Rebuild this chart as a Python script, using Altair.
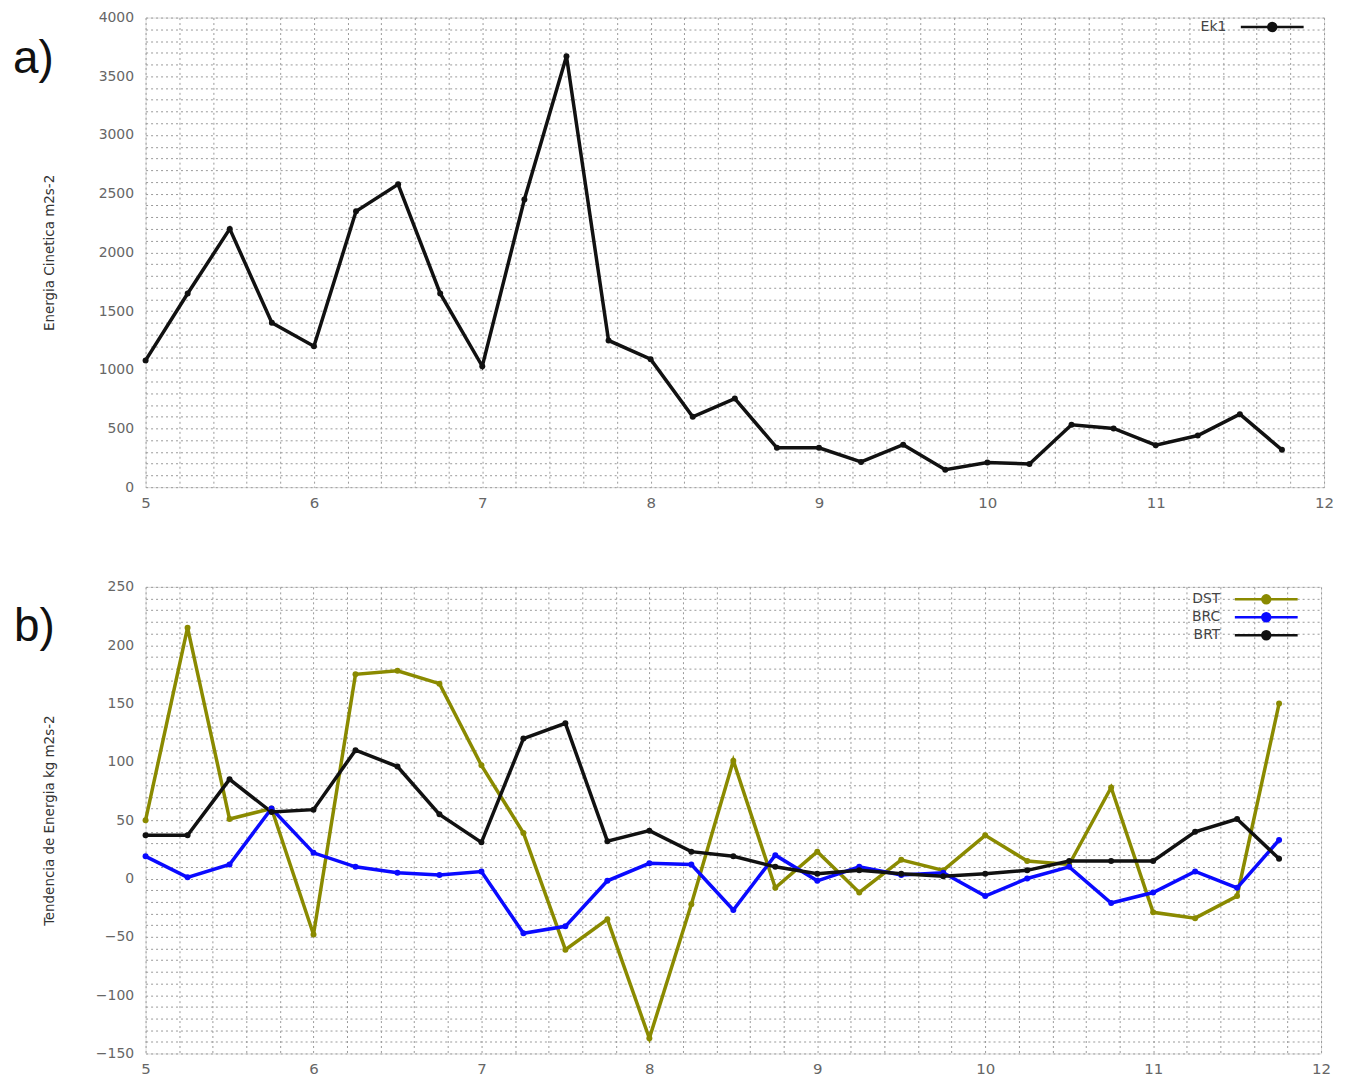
import altair as alt
import pandas as pd

# ---- data ----
x_vals = [5.0, 5.25, 5.5, 5.75, 6.0, 6.25, 6.5, 6.75, 7.0, 7.25, 7.5, 7.75, 8.0, 8.25,
          8.5, 8.75, 9.0, 9.25, 9.5, 9.75, 10.0, 10.25, 10.5, 10.75, 11.0, 11.25, 11.5, 11.75]

ek1 = [1080, 1650, 2200, 1400, 1200, 2350, 2580, 1650, 1030, 2450, 3670, 1250, 1090, 600,
       755, 335, 335, 215, 362, 148, 210, 198, 532, 500, 358, 440, 622, 318]

dst = [50, 215, 51, 60, -48, 175, 178, 167, 97, 39, -61, -35, -137, -22,
       101, -8, 23, -12, 16, 7, 37, 15, 12, 78, -29, -34, -15, 150]
brc = [19, 1, 12, 60, 22, 10, 5, 3, 6, -47, -41, -2, 13, 12,
       -27, 20, -2, 10, 3, 5, -15, 0, 10, -21, -12, 6, -8, 33]
brt = [37, 37, 85, 57, 59, 110, 96, 55, 31, 120, 133, 32, 41, 23,
       19, 10, 4, 7, 4, 2, 4, 7, 15, 15, 15, 40, 51, 17]

series_b = ["DST", "BRC", "BRT"]
colors_b = ["#8a8a00", "#0a0aff", "#111111"]

x_ticks = [round(5 + 0.2 * i, 1) for i in range(36)]
y_ticks_a = list(range(0, 4001, 100))
y_ticks_b = list(range(-150, 251, 10))

df_a = pd.DataFrame({"x": x_vals, "v": ek1, "s": "Ek1"})
df_b = pd.concat([
    pd.DataFrame({"x": x_vals, "v": dst, "s": "DST"}),
    pd.DataFrame({"x": x_vals, "v": brc, "s": "BRC"}),
    pd.DataFrame({"x": x_vals, "v": brt, "s": "BRT"}),
])

L_FONT = "DejaVu Sans"
T_FONT = "Liberation Sans Narrow, DejaVu Sans Condensed, Arial Narrow, sans-serif"

# legend symbol: a line with a dot, drawn to the right of the (right-aligned) label
sym_path = ("M3.29,0L12.29,0"
            "M7.22,0A0.57,0.57,0,1,0,8.36,0A0.57,0.57,0,1,0,7.22,0Z"
            "M7.49,0A0.3,0.3,0,1,0,8.09,0A0.3,0.3,0,1,0,7.49,0Z")


def xaxis():
    return alt.Axis(values=x_ticks, title=None,
                    labelExpr="abs(datum.value - round(datum.value)) < 0.01 ? format(datum.value, 'd') : ''",
                    labelFont=L_FONT, labelFontSize=15, labelColor="#666666",
                    labelPadding=8, labelFlush=False, labelOverlap=False,
                    ticks=False, domain=False,
                    grid=True, gridColor="#9a9a9a", gridDash=[2, 3], gridWidth=1)


def yaxis(vals, step, title, tx):
    return alt.Axis(values=vals, title=title,
                    labelExpr=f"datum.value % {step} == 0 ? format(datum.value, 'd') : ''",
                    labelFont=L_FONT, labelFontSize=14, labelColor="#666666",
                    labelPadding=12, labelFlush=False, labelOverlap=False,
                    ticks=False, domain=False,
                    grid=True, gridColor="#9a9a9a", gridDash=[2, 3], gridWidth=1,
                    titleFont=T_FONT, titleFontSize=15, titleFontWeight="normal",
                    titleColor="#333333", titleX=tx, titleBaseline="middle", titleAngle=270)


def legend(lx, ly):
    return alt.Legend(title=None, orient="none", legendX=lx, legendY=ly, padding=0,
                      symbolType=sym_path, symbolSize=196, symbolStrokeWidth=2.5,
                      labelAlign="right", labelOffset=0, labelFont=L_FONT,
                      labelFontSize=14, labelColor="#444444", rowPadding=-6)


W = 1182
xa = alt.X("x:Q", scale=alt.Scale(domain=[5, 12], nice=False), axis=xaxis())

line_a = alt.Chart(df_a).mark_line(
    strokeWidth=3.5, point=alt.OverlayMarkDef(filled=True, size=36)
).encode(
    x=xa,
    y=alt.Y("v:Q", scale=alt.Scale(domain=[0, 4000], nice=False),
            axis=yaxis(y_ticks_a, 500, "Energia Cinetica m2s-2", -97)),
    color=alt.Color("s:N", scale=alt.Scale(domain=["Ek1"], range=["#111111"]),
                    legend=legend(1067, 1)),
)
lab_a = alt.Chart(pd.DataFrame({"t": ["a)"]})).mark_text(
    font="Liberation Sans", fontSize=46, align="left", baseline="alphabetic", color="#111111"
).encode(text="t:N", x=alt.value(-133), y=alt.value(56))

top = alt.layer(line_a, lab_a).properties(width=W, height=471)

line_b = alt.Chart(df_b).mark_line(
    strokeWidth=3.5, point=alt.OverlayMarkDef(filled=True, size=36)
).encode(
    x=xa,
    y=alt.Y("v:Q", scale=alt.Scale(domain=[-150, 250], nice=False),
            axis=yaxis(y_ticks_b, 50, "Tendencia de Energia kg m2s-2", -97)),
    color=alt.Color("s:N", scale=alt.Scale(domain=series_b, range=colors_b),
                    legend=legend(1061, 4)),
    order=alt.Order("x:Q"),
)
lab_b = alt.Chart(pd.DataFrame({"t": ["b)"]})).mark_text(
    font="Liberation Sans", fontSize=46, align="left", baseline="alphabetic", color="#111111"
).encode(text="t:N", x=alt.value(-132), y=alt.value(54))

bottom = alt.layer(line_b, lab_b).properties(width=W - 3, height=468)

chart = alt.vconcat(top, bottom, spacing=68).resolve_scale(
    color="independent", x="independent", y="independent"
).resolve_legend(color="independent").properties(
    padding={"left": 4, "top": 0, "right": 5, "bottom": 0}
).configure_view(stroke="#444444", strokeWidth=2).configure(background="white")

chart.save("out.html", embed_options={"renderer": "svg", "actions": False})
